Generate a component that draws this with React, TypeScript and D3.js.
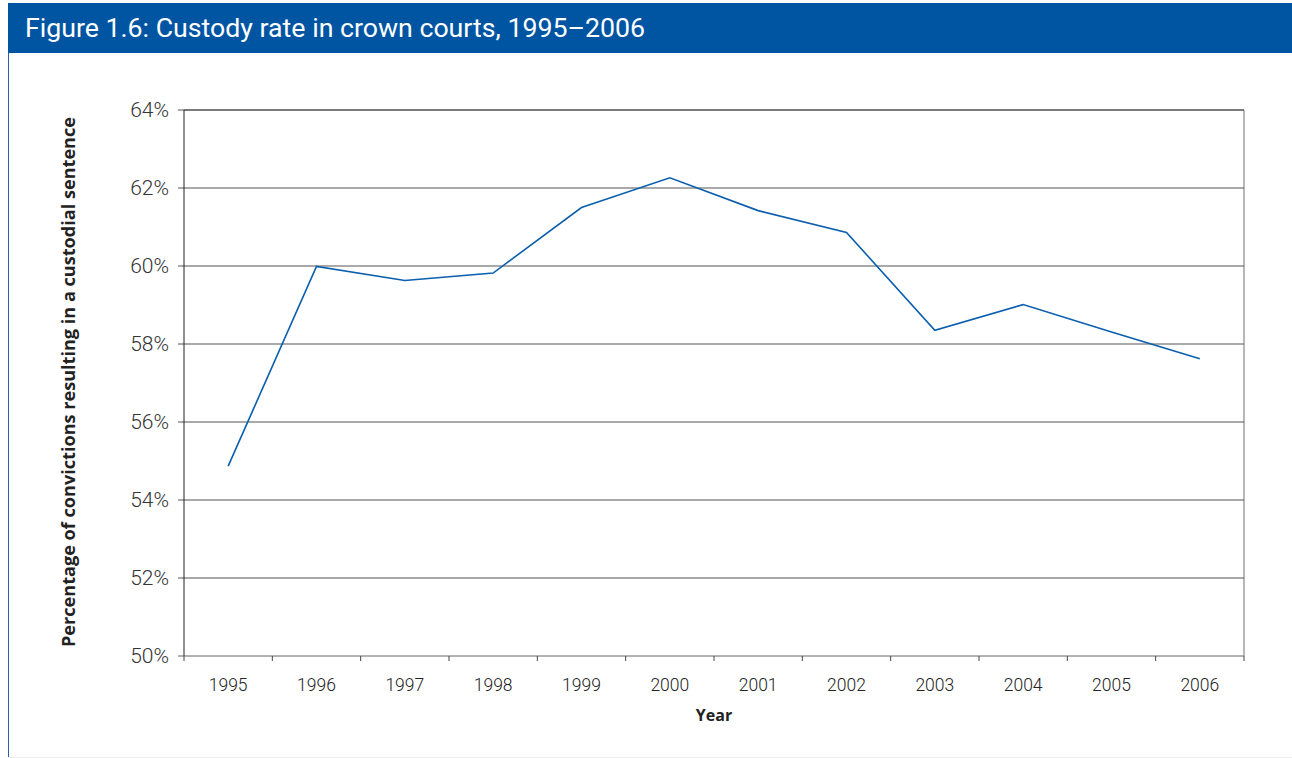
import React from "react";
import * as d3 from "d3";

const years = ["1995","1996","1997","1998","1999","2000","2001","2002","2003","2004","2005","2006"];
const custodyRate = [54.87, 59.99, 59.63, 59.82, 61.5, 62.26, 61.42, 60.86, 58.35, 59.01, 58.31, 57.62];
const yTicks = [50, 52, 54, 56, 58, 60, 62, 64];

const W = 1292, H = 758;
const M = { left: 184, right: 1244, top: 110, bottom: 656 };

export default function App() {
  const x = d3.scaleBand().domain(years).range([M.left, M.right]).paddingInner(0).paddingOuter(0);
  const y = d3.scaleLinear().domain([50, 64]).range([M.bottom, M.top]);
  const line = d3.line<number>()
    .x((_, i) => (x(years[i]) as number) + x.bandwidth() / 2)
    .y((d) => y(d));
  const tickXs = years.map((yr) => x(yr) as number).concat([M.right]);
  const font = "Roboto, 'DejaVu Sans', sans-serif";
  const boldFont = "'Open Sans', 'DejaVu Sans', sans-serif";
  return (
    <svg width={W} height={H} style={{ position: "absolute", left: 0, top: 0 }}>
      <rect x={0} y={0} width={W} height={H} fill="#fff" />
      <rect x={8} y={3} width={W - 8} height={50} fill="#0055a3" />
      <text x={25} y={37} fill="#fff" fontSize={25} textLength={620} lengthAdjust="spacingAndGlyphs" fontFamily="Roboto, 'DejaVu Sans Condensed', sans-serif">
        Figure 1.6: Custody rate in crown courts, 1995–2006
      </text>
      <line x1={8.5} y1={53} x2={8.5} y2={757} stroke="#2a5fa8" strokeWidth={1} />
      <line x1={8} y1={757.5} x2={W} y2={757.5} stroke="#eee" strokeWidth={1} />
      {/* plot border */}
      <line x1={M.left} y1={M.top} x2={M.right} y2={M.top} stroke="#444" strokeWidth={1} />
      <line x1={M.right} y1={M.top} x2={M.right} y2={M.bottom} stroke="#888" strokeWidth={1.2} />
      {yTicks.map((t) => (
        <g key={t}>
          <line x1={M.left - 6} x2={M.right} y1={y(t)} y2={y(t)} stroke={t === 50 ? "#666" : "#555"} strokeWidth={1} />
          <text x={169} y={y(t) + 7} textAnchor="end" fontSize={21} fontWeight={300} fill="#333" fontFamily={font}>
            {t}%
          </text>
        </g>
      ))}
      <line x1={M.left} y1={M.top} x2={M.left} y2={M.bottom} stroke="#222" strokeWidth={1} />
      {tickXs.map((tx, i) => (
        <line key={i} x1={tx} x2={tx} y1={M.bottom} y2={M.bottom + 5} stroke="#444" strokeWidth={1} />
      ))}
      {years.map((yr) => (
        <text key={yr} x={(x(yr) as number) + x.bandwidth() / 2} y={691} textAnchor="middle" fontSize={17.5} fontWeight={300} fill="#222" fontFamily={font}>
          {yr}
        </text>
      ))}
      <path d={line(custodyRate) || ""} fill="none" stroke="#0a5fae" strokeWidth={1.6} />
      <text x={714} y={721} textAnchor="middle" fontSize={16} fontWeight={700} fill="#222" fontFamily={boldFont}>
        Year
      </text>
      <text transform={`translate(75,382) rotate(-90)`} textAnchor="middle" fontSize={17} textLength={530} lengthAdjust="spacingAndGlyphs" fontWeight={700} fill="#222" fontFamily={boldFont}>
        Percentage of convictions resulting in a custodial sentence
      </text>
    </svg>
  );
}
